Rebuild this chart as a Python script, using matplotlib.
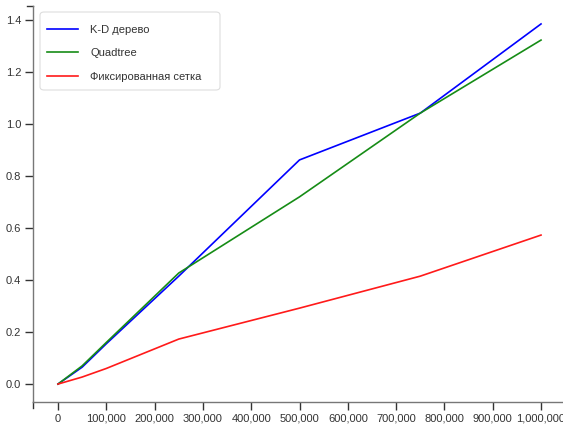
import matplotlib
matplotlib.use("Agg")
import matplotlib.pyplot as plt
from matplotlib.patches import FancyBboxPatch
from matplotlib.ticker import FuncFormatter, MultipleLocator

x_values = [0, 50000, 100000, 250000, 500000, 750000, 1000000]
kd_tree = [0.0, 0.065, 0.155, 0.415, 0.862, 1.042, 1.385]
quadtree = [0.0, 0.07, 0.16, 0.427, 0.72, 1.042, 1.323]
fixed_grid = [0.0, 0.027, 0.06, 0.173, 0.292, 0.415, 0.573]
series_names = ["K-D дерево", "Quadtree", "Фиксированная сетка"]

plt.rcParams['font.family'] = ['Arial', 'Liberation Sans', 'DejaVu Sans']

W, H = 563, 429
AX_L, AX_T, AX_W, AX_H = 33, 6, 530, 396
fig = plt.figure(figsize=(W/100, H/100), dpi=100)
ax = fig.add_axes([AX_L/W, (H - AX_T - AX_H)/H, AX_W/W, AX_H/H])

def px(xp, yp):
    return ((xp - AX_L)/AX_W, 1 - (yp - AX_T)/AX_H)

ax.plot(x_values, kd_tree, color="#0000ff", lw=1.2, label=series_names[0])
ax.plot(x_values, quadtree, color="#168c16", lw=1.2, label=series_names[1])
ax.plot(x_values, fixed_grid, color="#ff1a1a", lw=1.2, label=series_names[2])

ax.set_xlim(-51760, 1045500)
ax.set_ylim(-0.069, 1.454)
ax.xaxis.set_major_locator(MultipleLocator(100000))
ax.yaxis.set_major_locator(MultipleLocator(0.2))
ax.xaxis.set_major_formatter(FuncFormatter(lambda v, p: f"{int(round(v)):,}"))
ax.yaxis.set_major_formatter(FuncFormatter(lambda v, p: f"{v:.1f}"))

for s in ["top", "right"]:
    ax.spines[s].set_visible(False)
for s in ["left", "bottom"]:
    ax.spines[s].set_color("#777777")
    ax.spines[s].set_linewidth(1.0)
ax.tick_params(axis="both", direction="out", length=6, width=1, color="#333333",
               labelsize=8, labelcolor="#333333")
ax.tick_params(axis="x", pad=2.5)
ax.tick_params(axis="y", pad=2.5)

# outer end ticks
ax.plot([0, -6/AX_W], [1, 1], transform=ax.transAxes, color="#333333", lw=1, clip_on=False)
ax.plot([0, 0], [0, -6/AX_H], transform=ax.transAxes, color="#333333", lw=1, clip_on=False)

# legend frame
x0, y0 = px(40, 90)
x1, y1 = px(220, 12)
frame = FancyBboxPatch((x0, y0), x1 - x0, y1 - y0, transform=ax.transAxes,
                       boxstyle="round,pad=0,rounding_size=0.008",
                       facecolor="white", edgecolor="#dddddd", lw=0.8, zorder=4)
ax.add_patch(frame)

leg = ax.legend(loc="upper left", bbox_to_anchor=px(47, 25), borderaxespad=0,
                fontsize=8, frameon=False, handlelength=2.8, borderpad=0,
                labelspacing=1.2, handletextpad=1.1)
leg.set_zorder(5)
for t in leg.get_texts():
    t.set_color("#333333")

fig.savefig("out.png", dpi=100)
